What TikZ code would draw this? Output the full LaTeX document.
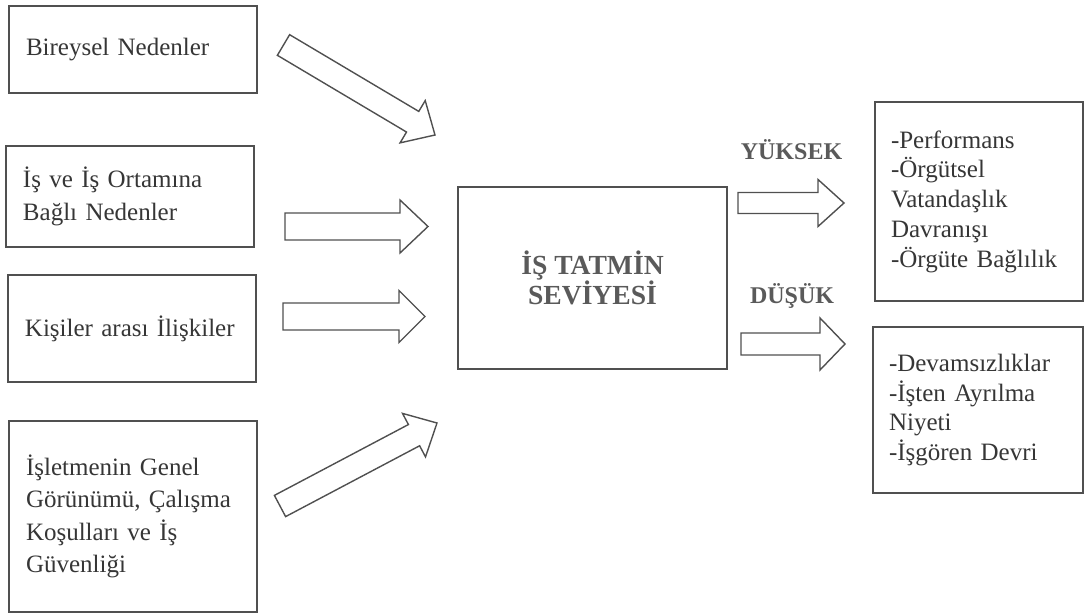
\documentclass[tikz,border=0pt]{standalone}
\usepackage{fontspec}
\setmainfont{Liberation Serif}
\usepackage{xcolor}
\usetikzlibrary{calc}

\definecolor{yazi}{HTML}{363636}
\definecolor{cizgi}{HTML}{505050}
\definecolor{baslik}{HTML}{5A5A5A}

% hollow block arrow: tail, tip, shaft half width, head half width, head length
\newcommand{\blokok}[5]{%
  \coordinate (okb) at ($(#2)!#5!(#1)$);
  \draw[blok] ($(#1)!#3!90:(#2)$) -- ($(okb)!#3!-90:(#1)$) -- ($(okb)!#4!-90:(#1)$)
    -- (#2) -- ($(okb)!#4!90:(#1)$) -- ($(okb)!#3!90:(#1)$) -- ($(#1)!#3!-90:(#2)$) -- cycle;
}

\begin{document}
\begin{tikzpicture}[x=0.5pt, y=-0.5pt,
    kutu/.style={draw=cizgi, line width=1pt, text=yazi, align=left, inner xsep=8.5pt, text width=107pt, font=\fontsize{12.5}{16.2}\selectfont},
    sonuc/.style={draw=cizgi, line width=1pt, text=yazi, align=left, inner xsep=8pt, text width=88pt, font=\fontsize{12.5}{14.9}\selectfont},
    merkez/.style={draw=cizgi, line width=1pt, text=baslik, align=center, minimum width=134.5pt, minimum height=91pt, font=\bfseries\fontsize{13.8}{15.2}\selectfont},
    etiket/.style={text=baslik, font=\bfseries\fontsize{12}{14}\selectfont},
    blok/.style={draw=cizgi, line width=0.7pt, line join=miter}
]
\useasboundingbox (0,0) rectangle (1086,615);

% nedenler
\node[kutu, minimum height=43.5pt] (bireysel) at (133,49.5) {Bireysel Nedenler};
\node[kutu, minimum height=50.5pt] (isortam) at (130,196.5) {İş ve İş Ortamına\\Bağlı Nedenler};
\node[kutu, minimum height=53.5pt] (kisiler) at (132,328.5) {Kişiler arası İlişkiler};
\node[kutu, minimum height=95.5pt] (isletme) at (133,516.5) {İşletmenin Genel\\Görünümü, Çalışma\\Koşulları ve İş\\Güvenliği};

% tatmin
\node[merkez] (tatmin) at (592.5,278) {İŞ TATMİN\\SEVİYESİ};

% sonuclar
\node[sonuc, minimum height=99.5pt] (yuksekkutu) at (979,201.5) {-Performans\\-Örgütsel\\Vatandaşlık\\Davranışı\\-Örgüte Bağlılık};
\node[sonuc, text width=89pt, minimum height=83pt] (dusukkutu) at (978,410) {-Devamsızlıklar\\-İşten Ayrılma\\Niyeti\\-İşgören Devri};

\node[etiket] (yuksek) at (791.5,150) {YÜKSEK};
\node[etiket] (dusuk) at (792,296) {DÜŞÜK};

% ok uclari
\coordinate (o1a) at (283.5,45);  \coordinate (o1b) at (435,135);
\coordinate (o2a) at (285,226.5); \coordinate (o2b) at (428,226.5);
\coordinate (o3a) at (283,316.5); \coordinate (o3b) at (425,316.5);
\coordinate (o4a) at (280,506);   \coordinate (o4b) at (437,423);
\coordinate (y1a) at (738,203);   \coordinate (y1b) at (844,203);
\coordinate (d1a) at (741,344);   \coordinate (d1b) at (845,344);

\blokok{o1a}{o1b}{6pt}{12.3pt}{13pt}
\blokok{o2a}{o2b}{6.75pt}{13.25pt}{14pt}
\blokok{o3a}{o3b}{6.75pt}{13pt}{13pt}
\blokok{o4a}{o4b}{6pt}{12.3pt}{13pt}
\blokok{y1a}{y1b}{5.25pt}{11.75pt}{13pt}
\blokok{d1a}{d1b}{5.5pt}{13pt}{12.5pt}
\end{tikzpicture}
\end{document}
